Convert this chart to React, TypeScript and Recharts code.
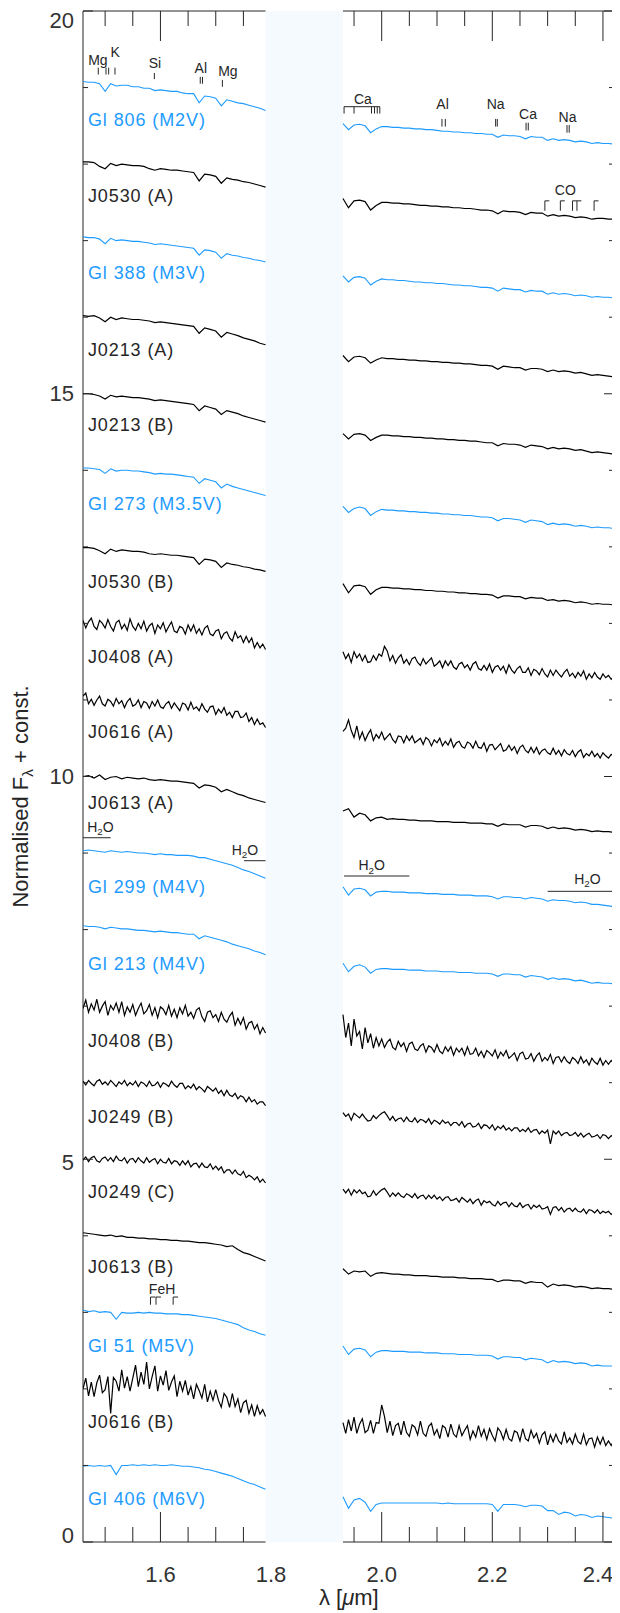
import React from 'react';
import { LineChart, Line, XAxis, YAxis, ReferenceArea, ReferenceLine, ReferenceDot } from 'recharts';

// wavelength grids (micron): coarse for the quiet spectra, fine for the noisy ones
const lamH = [1.46, 1.47, 1.48, 1.49, 1.5, 1.51, 1.52, 1.53, 1.54, 1.55, 1.56, 1.57, 1.58, 1.59, 1.6, 1.61, 1.62,
  1.63, 1.64, 1.65, 1.66, 1.67, 1.68, 1.69, 1.7, 1.71, 1.72, 1.73, 1.74, 1.75, 1.76, 1.77, 1.78, 1.79];
const lamK = [1.93, 1.94, 1.95, 1.96, 1.97, 1.98, 1.99, 2.0, 2.01, 2.02, 2.03, 2.04, 2.05, 2.06, 2.07, 2.08, 2.09,
  2.1, 2.11, 2.12, 2.13, 2.14, 2.15, 2.16, 2.17, 2.18, 2.19, 2.2, 2.21, 2.22, 2.23, 2.24, 2.25, 2.26, 2.27, 2.28,
  2.29, 2.3, 2.31, 2.32, 2.33, 2.34, 2.35, 2.36, 2.37, 2.38, 2.39, 2.4, 2.41, 2.42];
const lamHf = [1.46, 1.465, 1.47, 1.475, 1.48, 1.485, 1.49, 1.495, 1.5, 1.505, 1.51, 1.515, 1.52, 1.525, 1.53,
  1.535, 1.54, 1.545, 1.55, 1.555, 1.56, 1.565, 1.57, 1.575, 1.58, 1.585, 1.59, 1.595, 1.6, 1.605, 1.61, 1.615,
  1.62, 1.625, 1.63, 1.635, 1.64, 1.645, 1.65, 1.655, 1.66, 1.665, 1.67, 1.675, 1.68, 1.685, 1.69, 1.695, 1.7,
  1.705, 1.71, 1.715, 1.72, 1.725, 1.73, 1.735, 1.74, 1.745, 1.75, 1.755, 1.76, 1.765, 1.77, 1.775, 1.78, 1.785, 1.79];
const lamKf = [1.93, 1.935, 1.94, 1.945, 1.95, 1.955, 1.96, 1.965, 1.97, 1.975, 1.98, 1.985, 1.99, 1.995, 2.0,
  2.005, 2.01, 2.015, 2.02, 2.025, 2.03, 2.035, 2.04, 2.045, 2.05, 2.055, 2.06, 2.065, 2.07, 2.075, 2.08, 2.085,
  2.09, 2.095, 2.1, 2.105, 2.11, 2.115, 2.12, 2.125, 2.13, 2.135, 2.14, 2.145, 2.15, 2.155, 2.16, 2.165, 2.17,
  2.175, 2.18, 2.185, 2.19, 2.195, 2.2, 2.205, 2.21, 2.215, 2.22, 2.225, 2.23, 2.235, 2.24, 2.245, 2.25, 2.255,
  2.26, 2.265, 2.27, 2.275, 2.28, 2.285, 2.29, 2.295, 2.3, 2.305, 2.31, 2.315, 2.32, 2.325, 2.33, 2.335, 2.34,
  2.345, 2.35, 2.355, 2.36, 2.365, 2.37, 2.375, 2.38, 2.385, 2.39, 2.395, 2.4, 2.405, 2.41, 2.415, 2.42];

// normalised flux in hundredths, before the vertical offset
const gl806H = [108,107,107,105,95,105,102,103,103,101,101,99,99,96,97,96,95,95,93,92,92,80,89,88,86,76,84,82,80,79,77,75,73,70];
const gl806K = [53,45,51,52,50,41,46,49,49,48,48,47,47,46,46,45,45,44,43,43,42,42,41,41,40,40,39,39,35,38,37,37,36,33,36,35,35,31,33,31,32,31,29,30,29,27,28,27,27,26];
const j0530aH = [103,103,102,97,94,101,98,100,99,98,98,97,94,92,94,93,92,92,91,90,89,78,87,86,84,75,82,80,79,77,76,74,72,70];
const j0530aK = [55,43,52,53,51,40,46,50,50,49,49,48,48,47,46,46,45,45,44,44,43,43,42,42,41,40,40,39,35,39,38,38,37,34,37,36,36,32,34,32,33,32,30,31,30,28,29,29,28,28];
const gl388H = [105,104,104,102,96,103,100,101,100,99,99,98,97,95,96,95,94,93,92,91,90,81,88,87,85,77,83,81,80,78,77,75,74,72];
const gl388K = [54,46,52,53,51,42,47,50,49,49,48,48,47,46,46,45,45,44,44,43,42,42,41,41,40,39,39,38,34,38,37,36,36,33,35,34,34,30,32,30,31,30,28,29,28,26,27,26,26,25];
const j0213aH = [102,101,102,99,94,100,97,99,98,97,97,96,95,93,94,93,92,91,90,89,88,79,86,84,82,74,80,78,76,73,71,69,66,64];
const j0213aK = [50,42,48,49,47,40,44,47,46,46,45,45,44,44,43,43,42,42,41,41,40,40,39,39,38,37,37,36,32,36,35,34,34,31,33,33,32,29,31,29,30,29,27,28,26,24,25,24,23,22];
const j0213bH = [100,100,99,97,93,98,96,97,96,95,95,94,93,91,92,91,90,89,88,87,86,78,84,82,80,73,78,76,74,71,69,67,65,63];
const j0213bK = [48,41,47,48,46,39,43,46,46,45,45,44,44,43,43,42,42,41,41,40,40,39,39,38,38,37,36,36,32,35,34,34,33,30,33,32,31,28,30,28,29,28,26,27,25,23,24,23,22,21];
const gl273H = [103,103,102,101,96,102,99,100,100,99,99,98,97,95,96,95,95,94,93,92,91,83,89,87,85,77,82,79,77,75,73,71,69,67];
const gl273K = [53,45,50,52,50,41,46,49,48,48,47,47,46,46,45,45,44,44,43,43,42,42,41,41,40,39,39,38,34,37,37,36,35,32,35,34,33,29,31,29,30,29,27,28,27,25,26,25,25,24];
const j0530bH = [99,99,98,95,91,97,94,96,95,94,94,93,91,90,91,90,89,89,88,87,86,77,84,83,81,73,79,77,76,74,73,71,70,68];
const j0530bK = [52,40,49,50,48,38,44,47,47,46,46,45,45,44,44,43,43,42,42,41,41,40,40,39,39,38,38,37,33,36,36,35,35,32,34,33,33,30,31,29,30,29,27,28,27,25,26,25,25,24];
const j0408aH = [104,94,102,107,96,92,104,100,94,105,96,90,101,104,93,99,91,106,96,91,100,93,103,90,97,100,87,98,93,101,89,96,102,90,88,96,94,86,98,90,98,87,93,85,94,97,86,84,90,92,80,87,89,81,77,89,81,84,75,83,75,81,68,75,68,73,66];
const j0408aK = [63,54,60,49,63,55,60,51,58,49,50,58,52,60,57,70,64,51,58,48,55,59,48,53,46,54,56,49,45,54,47,51,55,44,47,51,42,51,45,51,43,40,47,49,42,46,39,47,50,41,39,45,39,47,36,43,45,39,44,35,46,39,35,41,44,36,36,42,32,40,38,33,41,34,30,39,32,39,34,30,36,40,31,35,29,36,31,38,27,34,29,36,30,27,34,29,32,27,31];
const j0616aH = [105,109,95,101,93,100,105,95,92,101,98,92,102,95,99,90,98,102,92,94,100,90,98,96,89,98,92,100,91,89,95,98,89,96,91,86,96,94,87,97,88,91,86,95,88,84,91,92,81,88,83,90,80,84,77,85,85,77,78,83,72,77,68,75,68,70,64];
const j0616aK = [59,63,74,60,51,66,49,58,47,55,61,47,55,50,58,48,52,56,48,44,53,52,44,53,47,53,44,47,50,42,51,48,40,48,44,50,40,46,41,49,38,44,46,39,37,45,43,37,46,38,37,44,33,41,42,35,39,43,33,35,41,34,39,30,38,41,34,31,38,31,38,29,34,36,31,29,37,29,34,27,35,30,28,34,26,32,35,25,30,27,33,26,30,24,31,27,24,29,26];
const j0613aH = [100,101,98,102,96,99,100,97,99,98,97,98,96,95,96,95,94,94,93,92,91,85,89,88,86,80,83,80,77,75,72,70,68,66];
const j0613aK = [55,58,47,52,50,42,46,47,44,45,44,44,43,43,42,42,42,41,41,41,40,40,40,39,39,39,38,38,35,38,37,37,37,34,36,36,35,32,34,32,33,32,30,31,30,28,29,28,28,27];
const gl299H = [103,104,103,102,101,103,102,101,102,101,100,100,99,98,99,98,98,97,97,97,96,94,94,92,90,88,86,84,81,78,76,73,70,67];
const gl299K = [56,45,53,54,52,44,49,50,50,49,49,49,48,48,48,47,47,47,46,46,46,45,45,45,44,44,44,43,40,43,43,42,42,40,42,41,40,37,39,38,38,37,35,36,35,33,33,32,31,30];
const gl213H = [105,104,104,103,101,103,102,101,101,100,99,99,98,97,98,97,96,96,95,94,94,88,92,90,88,86,84,81,79,77,75,72,70,67];
const gl213K = [56,45,52,54,51,43,48,49,49,48,48,48,47,47,47,46,46,46,45,45,45,44,44,44,43,43,43,42,39,42,42,41,41,38,40,39,38,35,37,35,36,35,33,34,32,30,31,30,30,29];
const j0408bH = [97,108,92,103,95,109,92,100,106,88,101,95,104,92,106,88,99,92,102,88,97,104,90,94,102,88,98,85,99,96,89,101,87,96,85,98,90,101,87,92,84,95,98,86,80,92,94,85,89,80,92,83,79,87,92,75,84,76,85,70,78,80,70,76,64,72,65];
const j0408bK = [89,59,78,48,83,61,67,44,72,52,64,45,59,48,57,46,53,57,46,43,54,47,52,41,51,53,44,42,48,51,40,48,46,40,50,41,38,47,41,47,36,45,40,45,36,47,37,38,45,35,41,33,42,39,35,43,32,40,35,42,32,35,39,29,38,40,31,32,38,28,35,39,28,33,29,37,25,33,34,27,34,28,25,33,30,25,34,26,30,23,32,27,24,32,23,29,24,29,25];
const j0249bH = [102,97,103,99,96,102,104,98,101,97,103,99,95,101,98,103,96,100,97,102,95,101,99,95,102,96,97,101,94,100,98,95,102,97,94,99,99,92,96,93,98,91,95,92,88,95,92,89,93,86,90,83,90,84,82,86,79,83,81,75,81,75,78,72,75,75,70];
const j0249bK = [61,56,59,51,60,57,54,59,54,50,51,57,53,57,60,62,57,51,56,50,53,54,49,55,50,49,54,48,52,51,48,53,46,51,49,46,51,47,49,44,48,48,44,49,42,46,47,42,43,47,40,45,44,40,45,38,43,40,44,38,41,37,41,41,36,39,36,41,35,38,39,33,37,34,38,20,37,33,37,31,34,35,31,32,35,30,34,29,32,34,29,30,32,27,32,31,27,31,28];
const j0249cH = [99,103,97,102,104,98,96,101,103,98,102,97,104,99,98,102,95,100,101,96,102,98,95,102,96,99,101,94,100,96,95,101,94,98,97,92,98,93,98,90,94,95,89,95,90,89,94,87,91,86,90,82,86,86,81,86,81,79,84,76,79,77,73,77,70,74,69];
const j0249cK = [61,56,61,53,60,56,60,55,57,51,52,59,53,57,60,62,57,51,56,52,56,52,50,55,53,50,55,49,52,53,48,53,49,53,48,51,46,50,51,46,47,49,44,50,47,44,48,42,46,48,40,46,43,45,41,39,45,40,43,44,38,43,39,38,43,37,40,41,35,40,37,40,35,36,38,28,37,38,33,37,31,35,36,32,36,32,31,35,29,34,33,30,34,29,32,30,32,28,31];
const j0613bH = [104,103,102,101,100,101,99,100,98,98,97,97,96,96,95,95,94,94,93,93,92,91,91,90,89,88,86,87,82,78,76,73,70,67];
const j0613bK = [57,50,54,53,54,47,51,52,51,50,50,49,49,48,48,48,47,47,46,46,46,45,45,44,44,44,43,43,40,42,42,41,41,38,40,39,39,33,37,35,36,35,33,34,33,31,32,31,31,30];
const gl51H = [103,101,102,100,101,100,91,100,99,99,100,99,100,99,99,98,98,98,97,97,96,95,94,93,92,90,88,86,84,80,77,75,72,70];
const gl51K = [56,45,52,53,51,42,48,50,50,49,49,49,48,48,48,47,47,47,46,46,46,45,45,45,44,44,44,43,39,42,42,41,41,38,40,39,38,34,37,35,36,35,33,34,33,30,31,30,30,30];
const j0616bH = [100,114,91,109,90,108,118,95,99,116,68,115,110,97,125,101,116,97,114,131,103,122,106,135,100,116,130,97,117,105,124,98,109,117,90,110,97,111,92,103,87,106,98,88,106,83,97,85,99,85,76,94,89,76,94,77,87,69,82,85,68,79,64,78,67,73,64];
const j0616bK = [56,42,60,45,63,42,54,61,43,46,59,42,56,55,79,64,43,58,39,52,55,40,58,43,38,53,50,40,58,42,38,51,55,40,47,35,52,49,37,54,41,37,52,39,46,52,34,45,37,52,38,47,34,48,39,32,49,44,34,47,35,32,45,43,32,48,35,32,46,36,42,29,40,44,27,40,31,41,32,28,44,30,36,28,41,31,28,41,27,35,36,24,37,28,37,26,32,26,33];
const gl406H = [99,100,99,100,99,100,88,100,100,101,100,101,100,101,100,100,101,100,99,99,98,97,95,94,92,90,88,86,83,80,77,75,72,69];
const gl406K = [59,44,55,57,52,40,49,51,51,51,51,51,51,51,51,51,51,51,50,51,50,50,50,50,50,50,50,49,40,49,49,49,48,46,48,48,47,41,41,36,39,38,34,36,35,32,34,33,32,31];

const names = ['Gl 806 (M2V)', 'J0530 (A)', 'Gl 388 (M3V)', 'J0213 (A)', 'J0213 (B)', 'Gl 273 (M3.5V)', 'J0530 (B)',
  'J0408 (A)', 'J0616 (A)', 'J0613 (A)', 'Gl 299 (M4V)', 'Gl 213 (M4V)', 'J0408 (B)', 'J0249 (B)', 'J0249 (C)',
  'J0613 (B)', 'Gl 51 (M5V)', 'J0616 (B)', 'Gl 406 (M6V)'];
const standard = [true, false, true, false, false, true, false, false, false, false, true, true, false, false, false,
  false, true, false, true];
const hSets = [gl806H, j0530aH, gl388H, j0213aH, j0213bH, gl273H, j0530bH, j0408aH, j0616aH, j0613aH, gl299H, gl213H,
  j0408bH, j0249bH, j0249cH, j0613bH, gl51H, j0616bH, gl406H];
const kSets = [gl806K, j0530aK, gl388K, j0213aK, j0213bK, gl273K, j0530bK, j0408aK, j0616aK, j0613aK, gl299K, gl213K,
  j0408bK, j0249bK, j0249cK, j0613bK, gl51K, j0616bK, gl406K];
const offsets = [18, 17, 16, 15, 14, 13, 12, 11, 10, 9, 8, 7, 6, 5, 4, 3, 2, 1, 0];
const labelY = [18.58, 17.59, 16.58, 15.58, 14.59, 13.56, 12.55, 11.57, 10.58, 9.66, 8.56, 7.56, 6.55, 5.56, 4.58,
  3.59, 2.57, 1.57, 0.57];

const xTicks = [1.5, 1.55, 1.6, 1.65, 1.7, 1.75, 1.8, 1.95, 2.0, 2.05, 2.1, 2.15, 2.2, 2.25, 2.3, 2.35, 2.4];
const xLabelled = [1.6, 1.8, 2.0, 2.2, 2.4];
const yTicks = [0, 1, 2, 3, 4, 5, 6, 7, 8, 9, 10, 11, 12, 13, 14, 15, 16, 17, 18, 19, 20];

// line identifications
const featText = [
  { t: 'Mg', x: 1.487, y: 19.36 }, { t: 'K', x: 1.518, y: 19.46 }, { t: 'Si', x: 1.59, y: 19.32 },
  { t: 'Al', x: 1.673, y: 19.26 }, { t: 'Mg', x: 1.722, y: 19.21 },
  { t: 'Ca', x: 1.966, y: 18.85 }, { t: 'Al', x: 2.11, y: 18.79 }, { t: 'Na', x: 2.206, y: 18.79 },
  { t: 'Ca', x: 2.2645, y: 18.65 }, { t: 'Na', x: 2.336, y: 18.61 },
  { t: 'CO', x: 2.332, y: 17.66 }, { t: 'FeH', x: 1.603, y: 3.3 },
];
const featTicks = [
  [1.4876, 19.17, 19.26], [1.5016, 19.17, 19.26], [1.5064, 19.17, 19.26], [1.5178, 19.17, 19.26],
  [1.589, 19.11, 19.19], [1.672, 19.05, 19.14], [1.676, 19.05, 19.14], [1.712, 19.01, 19.1],
  [1.932, 18.66, 18.75], [1.95, 18.66, 18.75], [1.9816, 18.66, 18.75], [1.987, 18.66, 18.75], [1.992, 18.66, 18.75],
  [1.9966, 18.66, 18.75],
  [2.109, 18.49, 18.59], [2.115, 18.49, 18.59], [2.206, 18.49, 18.59], [2.209, 18.49, 18.59],
  [2.261, 18.44, 18.54], [2.265, 18.44, 18.54], [2.335, 18.41, 18.51], [2.339, 18.41, 18.51],
];
const caBar = [1.932, 1.9966, 18.75];
const coHeads = [2.295, 2.323, 2.345, 2.353, 2.384];
const coLevels = [17.39, 17.52];
const fehHeads = [1.582, 1.592, 1.623];
const fehLevels = [3.1, 3.2];
const waterBars = [
  { x1: 1.46, x2: 1.51, y: 9.2, tx: 1.4916, ty: 9.34 },
  { x1: 1.751, x2: 1.79, y: 8.9, tx: 1.7527, ty: 9.04 },
  { x1: 1.932, x2: 2.05, y: 8.7, tx: 1.982, ty: 8.84 },
  { x1: 2.3, x2: 2.42, y: 8.5, tx: 2.372, ty: 8.66 },
];

const FONT = '"Liberation Sans", Arial, Helvetica, sans-serif';
const INK = '#262626';
const BLUE = '#1e9bff';
const GAP = '#f4fafd';

// plot box inside the svg, from the margins and axis sizes below
const PL = 75, PR = 606, PT = 3, PB = 1534;

const series = names.map((_, i) => {
  const h = hSets[i], k = kSets[i];
  const gh = h.length === lamHf.length ? lamHf : lamH;
  const gk = k.length === lamKf.length ? lamKf : lamK;
  const pts: { x: number; y: number | null }[] = gh.map((x, j) => ({ x, y: offsets[i] + h[j] / 100 }));
  pts.push({ x: 1.86, y: null });
  gk.forEach((x, j) => pts.push({ x, y: offsets[i] + k[j] / 100 }));
  return pts;
});

const XTick = (p: any) => {
  const v = Math.round(p.payload.value * 100) / 100;
  const lab = xLabelled.includes(v);
  const len = lab ? 30 : 15;
  const hidden = v === 1.8;
  // the last label is pulled in so it stays on the page
  const shift = v === 2.4 ? -5 : 0;
  return (
    <g>
      {!hidden && <line x1={p.x} x2={p.x} y1={PB} y2={PB - len} stroke={INK} strokeWidth={1} />}
      {!hidden && <line x1={p.x} x2={p.x} y1={PT} y2={PT + len} stroke={INK} strokeWidth={1} />}
      {lab && (
        <text x={p.x + shift} y={PB + 40} textAnchor="middle" fontSize={22} fontFamily={FONT} fill="#333">
          {v.toFixed(1)}
        </text>
      )}
    </g>
  );
};

const YTick = (p: any) => {
  const v = p.payload.value;
  const major = v % 5 === 0;
  const len = major ? 10 : 5;
  // the end labels sit inside the frame, as in the original plot
  const nudge = v === 20 ? 9 : v === 0 ? -7 : v === 5 ? 3 : 0;
  return (
    <g>
      <line x1={PL} x2={PL + len} y1={p.y} y2={p.y} stroke={INK} strokeWidth={1} />
      <line x1={PR - len} x2={PR} y1={p.y} y2={p.y} stroke={INK} strokeWidth={1} />
      {major && (
        <text x={PL - 9} y={p.y + nudge} dy="0.35em" textAnchor="end" fontSize={22} fontFamily={FONT} fill="#333">
          {v}
        </text>
      )}
    </g>
  );
};

const Lbl = (p: any) => {
  const vb = p.viewBox || {};
  const x = (vb.x || 0) + (vb.width || 0) / 2;
  const y = (vb.y || 0) + (vb.height || 0) / 2;
  return (
    <text x={x} y={y} dy="0.35em" fill={p.col || INK} fontSize={p.fs || 14} fontFamily={FONT}
      letterSpacing={p.ls || 0} textAnchor={p.anc || 'middle'}
      transform={p.rot ? `rotate(-90 ${x} ${y})` : undefined}>
      {p.node}
    </text>
  );
};

const txt = (key: string, x: number, y: number, node: React.ReactNode, opts: any = {}) => (
  <ReferenceDot key={key} x={x} y={y} r={0} fill="none" stroke="none" ifOverflow="visible"
    label={<Lbl node={node} {...opts} />} />
);

const seg = (key: string, x1: number, y1: number, x2: number, y2: number) => (
  <ReferenceLine key={key} segment={[{ x: x1, y: y1 }, { x: x2, y: y2 }]} stroke={INK} strokeWidth={1}
    ifOverflow="visible" />
);

const water = (
  <>
    H<tspan fontSize="0.7em" dy="0.35em">2</tspan><tspan dy="-0.25em">O</tspan>
  </>
);

export default function App() {
  return (
    <LineChart width={612} height={1605} margin={{ top: 3, right: 6, left: 0, bottom: 0 }}>
      <XAxis type="number" dataKey="x" domain={[1.46, 2.42]} allowDataOverflow ticks={xTicks} interval={0}
        tick={(p: any) => <XTick {...p} />} tickLine={false} axisLine={false} height={71} />
      <YAxis type="number" domain={[0, 20]} allowDataOverflow ticks={yTicks} interval={0}
        tick={(p: any) => <YTick {...p} />} tickLine={false} axisLine={false} width={75} />
      <ReferenceArea x1={1.79} x2={1.93} y1={0} y2={20} fill={GAP} fillOpacity={1} stroke="none" />

      {seg('fl', 1.46, 0, 1.46, 20)}
      {seg('fr', 2.42, 0, 2.42, 20)}
      {seg('ft1', 1.46, 20, 1.79, 20)}
      {seg('ft2', 1.93, 20, 2.42, 20)}
      {seg('fb1', 1.46, 0, 1.79, 0)}
      {seg('fb2', 1.93, 0, 2.42, 0)}

      {series.map((d, i) => (
        <Line key={names[i]} data={d} dataKey="y" type="linear" stroke={standard[i] ? BLUE : '#000'}
          strokeWidth={standard[i] ? 1.1 : 1.2} dot={false} activeDot={false} connectNulls={false}
          isAnimationActive={false} />
      ))}

      {names.map((n, i) => txt('n' + i, 1.469, labelY[i], n,
        { anc: 'start', fs: 18, ls: 0.9, col: standard[i] ? BLUE : INK }))}

      {featTicks.map((f, i) => seg('ft' + i, f[0], f[1], f[0], f[2]))}
      {seg('cabar', caBar[0], caBar[2], caBar[1], caBar[2])}
      {coHeads.map((x, i) => seg('cov' + i, x, coLevels[0], x, coLevels[1]))}
      {coHeads.map((x, i) => seg('coh' + i, x, coLevels[1], x + 0.008, coLevels[1]))}
      {fehHeads.map((x, i) => seg('fev' + i, x, fehLevels[0], x, fehLevels[1]))}
      {fehHeads.map((x, i) => seg('feh' + i, x, fehLevels[1], x + 0.009, fehLevels[1]))}
      {featText.map((f, i) => txt('fx' + i, f.x, f.y, f.t))}
      {waterBars.map((w, i) => seg('wb' + i, w.x1, w.y, w.x2, w.y))}
      {waterBars.map((w, i) => txt('wt' + i, w.tx, w.ty, water))}

      {txt('ylab', 1.3462, 9.74, <>Normalised F<tspan fontSize="0.7em" dy="0.35em">λ</tspan><tspan dy="-0.25em"> + const.</tspan></>, { fs: 22, rot: true })}
      {txt('xlab', 1.9406, -0.72, <>λ [<tspan fontStyle="italic">μ</tspan>m]</>, { fs: 22 })}
    </LineChart>
  );
}
